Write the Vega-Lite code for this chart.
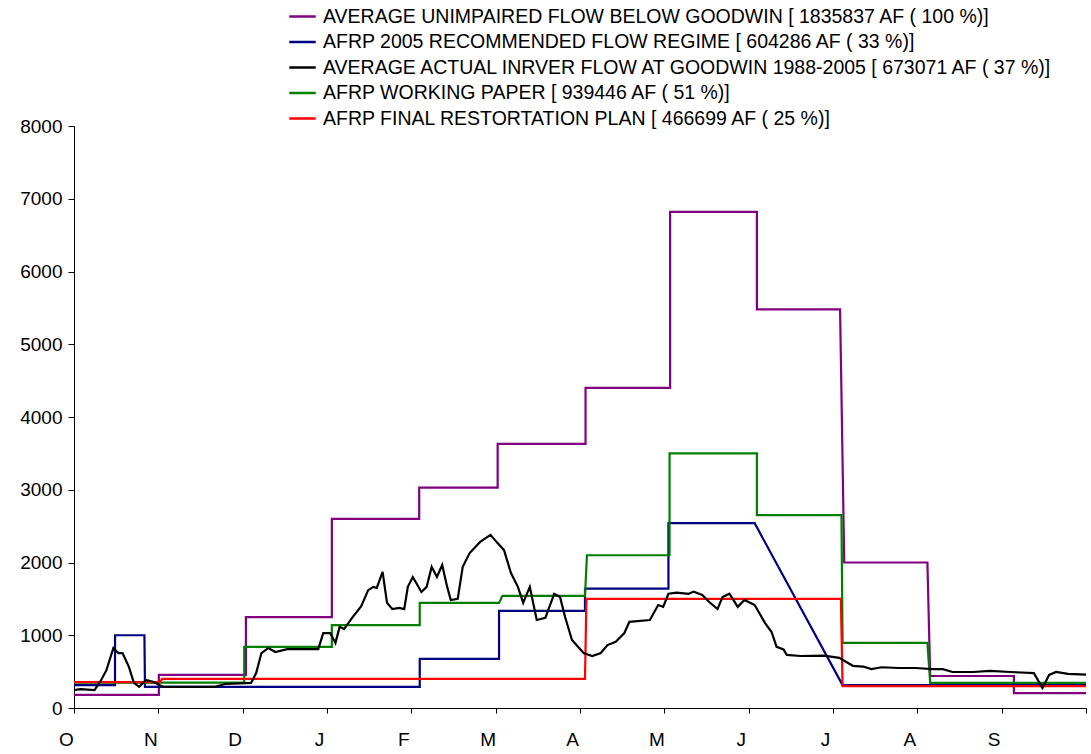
{
  "$schema": "https://vega.github.io/schema/vega-lite/v6.json",
  "width": 1012,
  "height": 582,
  "autosize": "none",
  "padding": {"left": 74, "top": 126, "right": 5, "bottom": 46},
  "background": "white",
  "config": {"view": {"stroke": null}, "font": "Liberation Sans"},
  "datasets": {
    "steps": [
      {"s": "p", "day": 0, "v": 180}, {"s": "p", "day": 30.6, "v": 180}, {"s": "p", "day": 30.6, "v": 455}, {"s": "p", "day": 62, "v": 455}, {"s": "p", "day": 62, "v": 1250}, {"s": "p", "day": 93, "v": 1250}, {"s": "p", "day": 93, "v": 2600}, {"s": "p", "day": 124.5, "v": 2600}, {"s": "p", "day": 124.5, "v": 3030}, {"s": "p", "day": 152.8, "v": 3030}, {"s": "p", "day": 152.8, "v": 3630}, {"s": "p", "day": 184.5, "v": 3630}, {"s": "p", "day": 184.5, "v": 4400}, {"s": "p", "day": 215, "v": 4400}, {"s": "p", "day": 215, "v": 6820}, {"s": "p", "day": 246.3, "v": 6820}, {"s": "p", "day": 246.3, "v": 5480}, {"s": "p", "day": 276.3, "v": 5480}, {"s": "p", "day": 277.8, "v": 2000}, {"s": "p", "day": 307.8, "v": 2000}, {"s": "p", "day": 308.8, "v": 440}, {"s": "p", "day": 339, "v": 440}, {"s": "p", "day": 339, "v": 205}, {"s": "p", "day": 367, "v": 205},
      {"s": "b", "day": 0, "v": 315}, {"s": "b", "day": 14.8, "v": 315}, {"s": "b", "day": 14.8, "v": 1000}, {"s": "b", "day": 25.4, "v": 1000}, {"s": "b", "day": 25.6, "v": 290}, {"s": "b", "day": 124.7, "v": 290}, {"s": "b", "day": 124.7, "v": 675}, {"s": "b", "day": 153.3, "v": 675}, {"s": "b", "day": 153.3, "v": 1335}, {"s": "b", "day": 184.3, "v": 1335}, {"s": "b", "day": 184.3, "v": 1640}, {"s": "b", "day": 214.4, "v": 1640}, {"s": "b", "day": 214.4, "v": 2540}, {"s": "b", "day": 245.5, "v": 2540}, {"s": "b", "day": 277.2, "v": 315}, {"s": "b", "day": 367, "v": 315},
      {"s": "g", "day": 0, "v": 350}, {"s": "g", "day": 61.4, "v": 350}, {"s": "g", "day": 61.4, "v": 840}, {"s": "g", "day": 93, "v": 840}, {"s": "g", "day": 93, "v": 1140}, {"s": "g", "day": 124.7, "v": 1140}, {"s": "g", "day": 124.7, "v": 1445}, {"s": "g", "day": 153.3, "v": 1445}, {"s": "g", "day": 154.5, "v": 1540}, {"s": "g", "day": 184.3, "v": 1540}, {"s": "g", "day": 185, "v": 2100}, {"s": "g", "day": 214.8, "v": 2100}, {"s": "g", "day": 214.8, "v": 3500}, {"s": "g", "day": 246.3, "v": 3500}, {"s": "g", "day": 246.3, "v": 2650}, {"s": "g", "day": 276.8, "v": 2650}, {"s": "g", "day": 277.2, "v": 895}, {"s": "g", "day": 307.8, "v": 895}, {"s": "g", "day": 308.8, "v": 345}, {"s": "g", "day": 367, "v": 345},
      {"s": "r", "day": 0, "v": 355}, {"s": "r", "day": 31, "v": 355}, {"s": "r", "day": 31.8, "v": 400}, {"s": "r", "day": 184.3, "v": 400}, {"s": "r", "day": 184.8, "v": 1500}, {"s": "r", "day": 276.6, "v": 1500}, {"s": "r", "day": 277.2, "v": 300}, {"s": "r", "day": 367, "v": 300},
      {"s": "k", "day": 0, "v": 247}, {"s": "k", "day": 2.4, "v": 260}, {"s": "k", "day": 7.4, "v": 247}, {"s": "k", "day": 9.8, "v": 385}, {"s": "k", "day": 11.7, "v": 520}, {"s": "k", "day": 14.2, "v": 825}, {"s": "k", "day": 16, "v": 755}, {"s": "k", "day": 17.5, "v": 755}, {"s": "k", "day": 19.8, "v": 565}, {"s": "k", "day": 21.6, "v": 345}, {"s": "k", "day": 23.5, "v": 290}, {"s": "k", "day": 26, "v": 385}, {"s": "k", "day": 28.5, "v": 360}, {"s": "k", "day": 32.2, "v": 290}, {"s": "k", "day": 37.2, "v": 290}, {"s": "k", "day": 50.8, "v": 290}, {"s": "k", "day": 54.5, "v": 330}, {"s": "k", "day": 63.9, "v": 345}, {"s": "k", "day": 65.7, "v": 480}, {"s": "k", "day": 67.6, "v": 755}, {"s": "k", "day": 70.1, "v": 825}, {"s": "k", "day": 72.6, "v": 770}, {"s": "k", "day": 76.9, "v": 810}, {"s": "k", "day": 88.1, "v": 810}, {"s": "k", "day": 89.9, "v": 1030}, {"s": "k", "day": 92.4, "v": 1030}, {"s": "k", "day": 94.3, "v": 895}, {"s": "k", "day": 95.8, "v": 1115}, {"s": "k", "day": 97.4, "v": 1085}, {"s": "k", "day": 100.5, "v": 1250}, {"s": "k", "day": 103.6, "v": 1400}, {"s": "k", "day": 106.1, "v": 1620}, {"s": "k", "day": 108, "v": 1665}, {"s": "k", "day": 109.2, "v": 1650}, {"s": "k", "day": 111.3, "v": 1870}, {"s": "k", "day": 112.9, "v": 1445}, {"s": "k", "day": 114.8, "v": 1360}, {"s": "k", "day": 117.3, "v": 1375}, {"s": "k", "day": 119.1, "v": 1360}, {"s": "k", "day": 120.4, "v": 1665}, {"s": "k", "day": 122.2, "v": 1800}, {"s": "k", "day": 125.3, "v": 1595}, {"s": "k", "day": 127.2, "v": 1665}, {"s": "k", "day": 129, "v": 1940}, {"s": "k", "day": 130.9, "v": 1800}, {"s": "k", "day": 132.8, "v": 1965}, {"s": "k", "day": 134.6, "v": 1665}, {"s": "k", "day": 135.9, "v": 1485}, {"s": "k", "day": 138.4, "v": 1500}, {"s": "k", "day": 140.2, "v": 1940}, {"s": "k", "day": 142.7, "v": 2130}, {"s": "k", "day": 146.4, "v": 2280}, {"s": "k", "day": 150.2, "v": 2380}, {"s": "k", "day": 152.7, "v": 2270}, {"s": "k", "day": 155.1, "v": 2170}, {"s": "k", "day": 157.6, "v": 1855}, {"s": "k", "day": 160.1, "v": 1665}, {"s": "k", "day": 162, "v": 1445}, {"s": "k", "day": 164.4, "v": 1665}, {"s": "k", "day": 166.9, "v": 1210}, {"s": "k", "day": 170, "v": 1240}, {"s": "k", "day": 173.2, "v": 1570}, {"s": "k", "day": 175.3, "v": 1525}, {"s": "k", "day": 177.1, "v": 1255}, {"s": "k", "day": 179.6, "v": 935}, {"s": "k", "day": 183.8, "v": 755}, {"s": "k", "day": 186.9, "v": 715}, {"s": "k", "day": 190, "v": 755}, {"s": "k", "day": 192.4, "v": 865}, {"s": "k", "day": 195.4, "v": 910}, {"s": "k", "day": 198.5, "v": 1030}, {"s": "k", "day": 200.3, "v": 1185}, {"s": "k", "day": 207.7, "v": 1210}, {"s": "k", "day": 210.7, "v": 1415}, {"s": "k", "day": 212.5, "v": 1390}, {"s": "k", "day": 214.4, "v": 1570}, {"s": "k", "day": 217.4, "v": 1585}, {"s": "k", "day": 221.7, "v": 1570}, {"s": "k", "day": 223.5, "v": 1600}, {"s": "k", "day": 226.6, "v": 1555}, {"s": "k", "day": 229, "v": 1460}, {"s": "k", "day": 232.1, "v": 1360}, {"s": "k", "day": 233.9, "v": 1525}, {"s": "k", "day": 236.4, "v": 1570}, {"s": "k", "day": 239.4, "v": 1390}, {"s": "k", "day": 241.8, "v": 1485}, {"s": "k", "day": 245.5, "v": 1415}, {"s": "k", "day": 249.2, "v": 1170}, {"s": "k", "day": 251.6, "v": 1045}, {"s": "k", "day": 253.4, "v": 840}, {"s": "k", "day": 255.9, "v": 805}, {"s": "k", "day": 257.1, "v": 730}, {"s": "k", "day": 262, "v": 715}, {"s": "k", "day": 270.5, "v": 720}, {"s": "k", "day": 276, "v": 690}, {"s": "k", "day": 280.9, "v": 580}, {"s": "k", "day": 284.6, "v": 570}, {"s": "k", "day": 287.6, "v": 535}, {"s": "k", "day": 291.3, "v": 560}, {"s": "k", "day": 297.4, "v": 550}, {"s": "k", "day": 303.5, "v": 550}, {"s": "k", "day": 309.6, "v": 535}, {"s": "k", "day": 313.3, "v": 535}, {"s": "k", "day": 316.9, "v": 495}, {"s": "k", "day": 324.3, "v": 495}, {"s": "k", "day": 330.4, "v": 510}, {"s": "k", "day": 337.7, "v": 495}, {"s": "k", "day": 346.2, "v": 480}, {"s": "k", "day": 349.3, "v": 275}, {"s": "k", "day": 351.7, "v": 455}, {"s": "k", "day": 354.2, "v": 495}, {"s": "k", "day": 358.5, "v": 470}, {"s": "k", "day": 367, "v": 455}
    ]
  },
  "data": {"name": "steps"},
  "mark": {"type": "line", "strokeWidth": 2.2, "clip": true},
  "encoding": {
    "x": {
      "field": "day", "type": "quantitative",
      "scale": {"domain": [0, 365], "nice": false, "zero": false},
      "axis": {
        "title": null, "grid": false,
        "values": [0, 30.42, 60.83, 91.25, 121.67, 152.08, 182.5, 212.92, 243.33, 273.75, 304.17, 334.58, 365],
        "labelExpr": "['O','N','D','J','F','M','A','M','J','J','A','S',''][round(datum.value / 30.4167)]",
        "labelFlush": false, "labelAlign": "center", "labelOffset": -8,
        "labelFontSize": 19, "labelColor": "black", "labelPadding": 17,
        "domainColor": "black", "tickColor": "black", "tickSize": 5
      }
    },
    "y": {
      "field": "v", "type": "quantitative",
      "scale": {"domain": [0, 8000], "nice": false},
      "axis": {
        "title": null, "grid": false, "values": [0, 1000, 2000, 3000, 4000, 5000, 6000, 7000, 8000],
        "format": "d", "labelFlush": false,
        "labelFontSize": 19, "labelColor": "black", "labelPadding": 6,
        "domainColor": "black", "tickColor": "black", "tickSize": 6
      }
    },
    "color": {
      "field": "s", "type": "nominal",
      "scale": {
        "domain": ["p", "b", "k", "g", "r"],
        "range": ["#800080", "#000080", "#000000", "#008000", "#ff0000"]
      },
      "legend": {
        "title": null, "orient": "none", "legendX": 214, "legendY": -124,
        "symbolType": "stroke", "symbolSize": 700, "symbolStrokeWidth": 2.5,
        "labelFontSize": 19.5, "labelColor": "black", "rowPadding": 1.5, "labelOffset": 6, "labelLimit": 0,
        "labelExpr": "{'p':'AVERAGE UNIMPAIRED FLOW BELOW GOODWIN [ 1835837 AF ( 100 %)]','b':'AFRP 2005 RECOMMENDED FLOW REGIME [ 604286 AF ( 33 %)]','k':'AVERAGE ACTUAL INRVER FLOW AT GOODWIN 1988-2005 [ 673071 AF ( 37 %)]','g':'AFRP  WORKING PAPER  [ 939446 AF ( 51 %)]','r':'AFRP FINAL RESTORTATION PLAN  [ 466699 AF ( 25 %)]'}[datum.value]"
      }
    }
  }
}
